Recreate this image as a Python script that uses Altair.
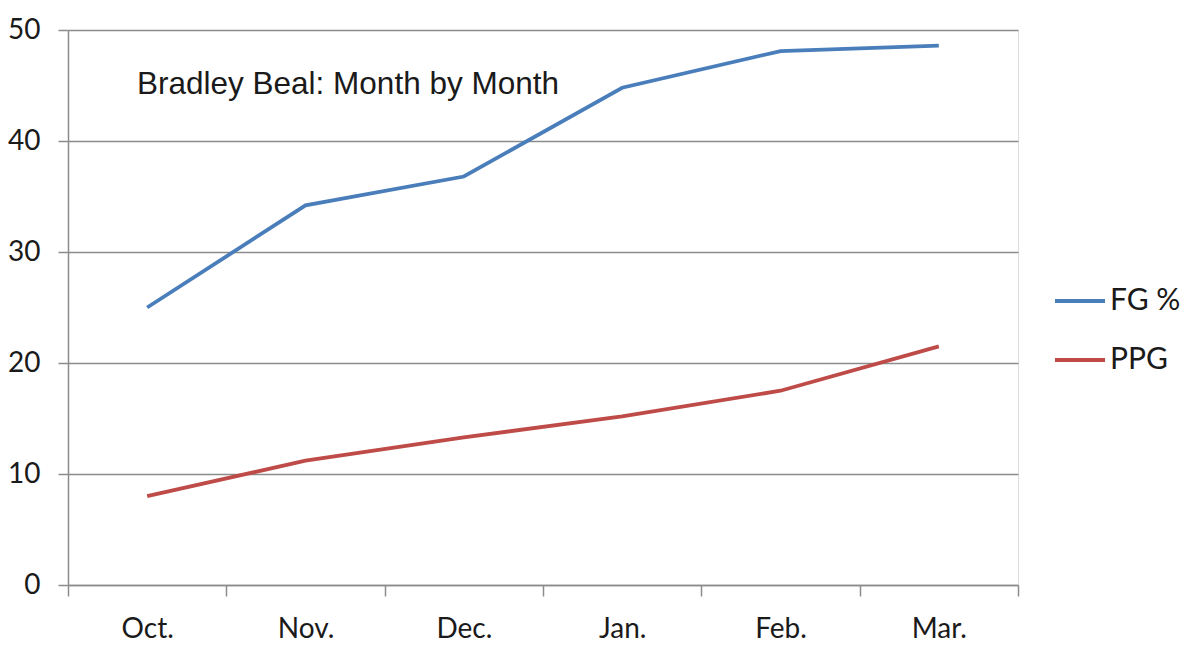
import altair as alt
import pandas as pd

months = ["Oct.", "Nov.", "Dec.", "Jan.", "Feb.", "Mar."]
fg_pct = [25.0, 34.2, 36.8, 44.8, 48.1, 48.6]
ppg = [8.0, 11.2, 13.3, 15.2, 17.5, 21.5]
series = ["FG %", "PPG"]
colors = ["#4a7ebb", "#be4b48"]
y_ticks = [0, 10, 20, 30, 40, 50]

rows = []
for m, v in zip(months, fg_pct):
    rows.append({"month": m, "series": series[0], "value": v})
for m, v in zip(months, ppg):
    rows.append({"month": m, "series": series[1], "value": v})
df = pd.DataFrame(rows)

LABEL_FONT = "Lato"
TEXT_COLOR = "#1a1a1a"
GRID = "#8c8c8c"

chart = (
    alt.Chart(df)
    .mark_line(strokeWidth=3.8)
    .encode(
        x=alt.X(
            "month:N",
            sort=months,
            scale=alt.Scale(type="band", paddingInner=0, paddingOuter=0),
            bandPosition=0.5,
            axis=alt.Axis(
                title=None,
                labelAngle=0,
                tickBand="extent",
                grid=False,
                domainColor=GRID,
                domainWidth=1.5,
                tickColor=GRID,
                tickWidth=1.5,
                tickSize=11,
                labelPadding=19,
                labelFont=LABEL_FONT,
                labelFontSize=28,
                labelColor=TEXT_COLOR,
            ),
        ),
        y=alt.Y(
            "value:Q",
            scale=alt.Scale(domain=[0, 50], nice=False),
            axis=alt.Axis(
                title=None,
                values=y_ticks,
                grid=True,
                gridColor=GRID,
                gridWidth=1.5,
                domainColor=GRID,
                domainWidth=1.5,
                tickColor=GRID,
                tickWidth=1.5,
                tickSize=10,
                labelPadding=18,
                labelFont=LABEL_FONT,
                labelFontSize=28,
                labelColor=TEXT_COLOR,
            ),
        ),
        color=alt.Color(
            "series:N",
            scale=alt.Scale(domain=series, range=colors),
            legend=alt.Legend(
                title=None,
                orient="none",
                legendX=985,
                legendY=244,
                symbolType="stroke",
                symbolSize=2500,
                symbolStrokeWidth=3.8,
                labelFont=LABEL_FONT,
                labelFontSize=30,
                labelColor=TEXT_COLOR,
                labelOffset=3,
                rowPadding=17,
            ),
        ),
    )
    .properties(
        width=950,
        height=555,
        title=alt.TitleParams(
            "Bradley Beal: Month by Month",
            anchor="start",
            frame="group",
            orient="top",
            offset=0,
            dx=69,
            dy=100,
            baseline="middle",
            font="Liberation Sans",
            fontSize=31.5,
            fontWeight="normal",
            color=TEXT_COLOR,
        ),
        autosize=alt.AutoSizeParams(type="none"),
        padding={"left": 68, "top": 30, "right": 182, "bottom": 68},
    )
    .configure_view(stroke=None)
    .configure(background="white")
)

chart.save("out.html", embed_options={"renderer": "svg", "actions": False})
